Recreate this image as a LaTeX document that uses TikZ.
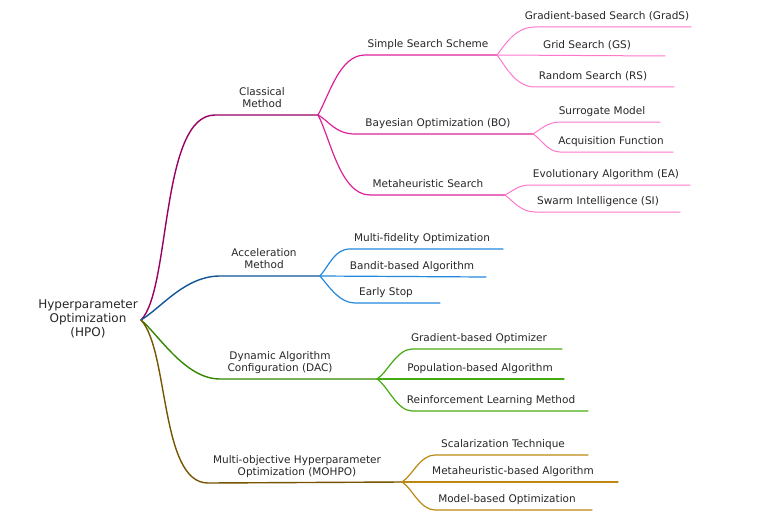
\documentclass[tikz,border=0pt]{standalone}
\usepackage{fontspec}
\setmainfont{DejaVu Sans}
\definecolor{cmdark}{RGB}{153,0,102}
\definecolor{cmmid}{RGB}{221,34,153}
\definecolor{cmlight}{RGB}{255,119,204}
\definecolor{amdark}{RGB}{17,85,153}
\definecolor{ammid}{RGB}{34,136,221}
\definecolor{dacdark}{RGB}{51,136,0}
\definecolor{dacmid}{RGB}{68,170,17}
\definecolor{modark}{RGB}{119,85,0}
\definecolor{momid}{RGB}{187,136,17}
\begin{document}
\begin{tikzpicture}[x=1pt,y=-1pt,
  lab/.style={font=\fontsize{10.5}{12}\selectfont,text=black!85,align=center,inner sep=0pt,text depth=2pt,anchor=south},
  lone/.style={line width=1.4pt,line cap=round},
  ltwo/.style={line width=1.2pt,line cap=round},
  lthree/.style={line width=1pt,line cap=round}]
\useasboundingbox (0,0) rectangle (770,524);
% root
\coordinate (hpo) at (141,320);
\node[lab,font=\fontsize{12}{14}\selectfont,anchor=center] (hpo-t) at (88,319) {Hyperparameter\\Optimization\\(HPO)};
% classical method
\coordinate (cm-s) at (215,115);
\coordinate (cm) at (318,115);
\draw[lone,cmdark] (hpo) .. controls +(30,-30) and +(-55,0) .. (cm-s) -- (cm);
\node[lab] (cm-t) at (262,110) {Classical\\Method};
\coordinate (sss-s) at (365,55);
\coordinate (sss) at (497,55);
\draw[ltwo,cmmid] (cm) .. controls +(12,-22) and +(-25,0) .. (sss-s) -- (sss);
\node[lab] (sss-t) at (428,50) {Simple Search Scheme};
\coordinate (bo-s) at (355,134);
\coordinate (bo) at (533,134);
\draw[ltwo,cmmid] (cm) .. controls +(10,5) and +(-20,0) .. (bo-s) -- (bo);
\node[lab] (bo-t) at (438,129) {Bayesian Optimization (BO)};
\coordinate (ms-s) at (370,195);
\coordinate (ms) at (505,195);
\draw[ltwo,cmmid] (cm) .. controls +(12,22) and +(-30,0) .. (ms-s) -- (ms);
\node[lab] (ms-t) at (428,190) {Metaheuristic Search};
\coordinate (grads-s) at (535,27);
\coordinate (grads) at (691,27);
\draw[lthree,cmlight] (sss) .. controls +(8,-10) and +(-20,0) .. (grads-s) -- (grads);
\node[lab] (grads-t) at (607,22) {Gradient-based Search (GradS)};
\coordinate (gs) at (665,56);
\draw[lthree,cmlight] (sss) -- (gs);
\node[lab] (gs-t) at (587,51) {Grid Search (GS)};
\coordinate (rs-s) at (535,87);
\coordinate (rs) at (674,87);
\draw[lthree,cmlight] (sss) .. controls +(8,10) and +(-20,0) .. (rs-s) -- (rs);
\node[lab] (rs-t) at (593,82) {Random Search (RS)};
\coordinate (sm-s) at (560,122);
\coordinate (sm) at (660,122);
\draw[lthree,cmlight] (bo) .. controls +(8,-5) and +(-12,0) .. (sm-s) -- (sm);
\node[lab] (sm-t) at (602,117) {Surrogate Model};
\coordinate (af-s) at (560,152);
\coordinate (af) at (673,152);
\draw[lthree,cmlight] (bo) .. controls +(8,5) and +(-12,0) .. (af-s) -- (af);
\node[lab] (af-t) at (611,147) {Acquisition Function};
\coordinate (ea-s) at (530,185);
\coordinate (ea) at (690,185);
\draw[lthree,cmlight] (ms) .. controls +(8,-4) and +(-12,0) .. (ea-s) -- (ea);
\node[lab] (ea-t) at (606,180) {Evolutionary Algorithm (EA)};
\coordinate (si-s) at (535,212);
\coordinate (si) at (680,212);
\draw[lthree,cmlight] (ms) .. controls +(8,6) and +(-14,0) .. (si-s) -- (si);
\node[lab] (si-t) at (598,207) {Swarm Intelligence (SI)};
% acceleration method
\coordinate (am-s) at (220,276);
\coordinate (am) at (320,276);
\draw[lone,amdark] (hpo) .. controls +(20,-12) and +(-35,0) .. (am-s) -- (am);
\node[lab] (am-t) at (264,271) {Acceleration\\Method};
\coordinate (mfo-s) at (350,249);
\coordinate (mfo) at (503,249);
\draw[ltwo,ammid] (am) .. controls +(10,-12) and +(-15,0) .. (mfo-s) -- (mfo);
\node[lab] (mfo-t) at (422,244) {Multi-fidelity Optimization};
\coordinate (bba) at (486,277);
\draw[ltwo,ammid] (am) -- (bba);
\node[lab] (bba-t) at (412,272) {Bandit-based Algorithm};
\coordinate (es-s) at (355,303);
\coordinate (es) at (440,303);
\draw[ltwo,ammid] (am) .. controls +(10,12) and +(-15,0) .. (es-s) -- (es);
\node[lab] (es-t) at (386,298) {Early Stop};
% dynamic algorithm configuration
\coordinate (dac-s) at (220,379);
\coordinate (dac) at (377,379);
\draw[lone,dacdark] (hpo) .. controls +(18,15) and +(-35,0) .. (dac-s) -- (dac);
\node[lab] (dac-t) at (280,374) {Dynamic Algorithm\\Configuration (DAC)};
\coordinate (gbo-s) at (412,349);
\coordinate (gbo) at (562,349);
\draw[ltwo,dacmid] (dac) .. controls +(10,-6) and +(-15,0) .. (gbo-s) -- (gbo);
\node[lab] (gbo-t) at (479,344) {Gradient-based Optimizer};
\coordinate (pba) at (564,379);
\draw[ltwo,dacmid] (dac) -- (pba);
\node[lab] (pba-t) at (480,374) {Population-based Algorithm};
\coordinate (rlm-s) at (412,411);
\coordinate (rlm) at (588,411);
\draw[ltwo,dacmid] (dac) .. controls +(10,6) and +(-15,0) .. (rlm-s) -- (rlm);
\node[lab] (rlm-t) at (491,406) {Reinforcement Learning Method};
% multi-objective hpo
\coordinate (mo-s) at (208,483);
\coordinate (mo) at (402,482);
\draw[lone,modark] (hpo) .. controls +(28,30) and +(-48,0) .. (mo-s) -- (mo);
\node[lab] (mo-t) at (297,478) {Multi-objective Hyperparameter\\Optimization (MOHPO)};
\coordinate (st-s) at (435,455);
\coordinate (st) at (588,455);
\draw[ltwo,momid] (mo) .. controls +(10,-6) and +(-15,0) .. (st-s) -- (st);
\node[lab] (st-t) at (503,450) {Scalarization Technique};
\coordinate (mba) at (618,482);
\draw[ltwo,momid] (mo) -- (mba);
\node[lab] (mba-t) at (513,477) {Metaheuristic-based Algorithm};
\coordinate (mbo-s) at (435,510);
\coordinate (mbo) at (592,510);
\draw[ltwo,momid] (mo) .. controls +(10,6) and +(-15,0) .. (mbo-s) -- (mbo);
\node[lab] (mbo-t) at (507,505) {Model-based Optimization};
\end{tikzpicture}
\end{document}
